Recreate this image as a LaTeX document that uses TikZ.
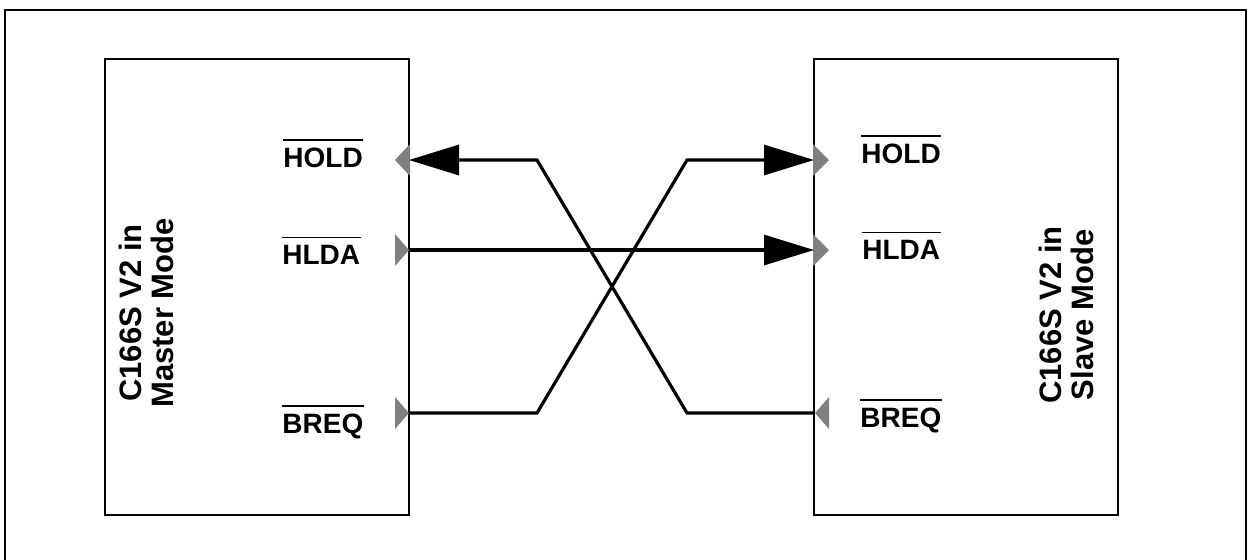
\documentclass[tikz,border=0pt]{standalone}
\usepackage{fontspec}
\setmainfont{Liberation Sans}
\usetikzlibrary{arrows.meta}
\begin{document}
\begin{tikzpicture}[x=0.5pt,y=-0.5pt,
  box/.style={draw, line width=1pt, minimum width=152pt, minimum height=228pt, inner sep=0pt},
  conn/.style={line width=1.6pt},
  bigtip/.tip={Triangle[length=25pt,width=15pt]},
  pinlbl/.style={font=\fontsize{14}{16}\selectfont\bfseries, inner sep=0pt, anchor=base west},
  boxlbl/.style={font=\fontsize{15.5}{16}\selectfont\bfseries, align=center, rotate=90, inner sep=0pt},
  pinmark/.style={fill=gray, draw=none},
  ovl/.style={line width=0.8pt}]
\useasboundingbox (0,0) rectangle (1248,559);
% outer frame
\draw[line width=1pt] (5,565) -- (5,10) -- (1246,10) -- (1246,565);
% boxes
\node[box] (master) at (257,287) {};
\node[box] (slave) at (966,287) {};
\node[boxlbl] (mlbl) at (146,313) {C166S V2 in\\Master Mode};
\node[boxlbl] (slbl) at (1066,315) {C166S V2 in\\Slave Mode};
% pin coordinates
\coordinate (mhold) at (409,160);
\coordinate (mhlda) at (409,250);
\coordinate (mbreq) at (409,413);
\coordinate (shold) at (814,160);
\coordinate (shlda) at (814,250);
\coordinate (sbreq) at (814,413);
\coordinate (b1) at (537,160);
\coordinate (b2) at (687,413);
\coordinate (b3) at (537,413);
\coordinate (b4) at (687,160);
% pin markers
\fill[pinmark] (395,160) -- (410,144) -- (410,176) -- cycle;
\fill[pinmark] (395,234) -- (409,250) -- (395,266) -- cycle;
\fill[pinmark] (395,397) -- (409,413) -- (395,429) -- cycle;
\fill[pinmark] (813,144) -- (829,160) -- (813,176) -- cycle;
\fill[pinmark] (813,234) -- (829,250) -- (813,266) -- cycle;
\fill[pinmark] (815,413) -- (829,397) -- (829,429) -- cycle;
% connectors
\draw[conn, bigtip-] (mhold) -- (b1) -- (b2) -- (sbreq);
\draw[conn, -bigtip] (mbreq) -- (b3) -- (b4) -- (shold);
\draw[conn, -bigtip] (mhlda) -- (shlda);
% pin labels
\node[pinlbl] (lhold) at (283,167) {HOLD};
\node[pinlbl] (lhlda) at (282,264) {HLDA};
\node[pinlbl] (lbreq) at (282,433) {BREQ};
\node[pinlbl] (rhold) at (861,163) {HOLD};
\node[pinlbl] (rhlda) at (862,259) {HLDA};
\node[pinlbl] (rbreq) at (860,427) {BREQ};
\foreach \n in {lhold,lhlda,lbreq,rhold,rhlda,rbreq}
  \draw[ovl] ([yshift=3.5pt]\n.north west) -- ([yshift=3.5pt]\n.north east);
\end{tikzpicture}
\end{document}
